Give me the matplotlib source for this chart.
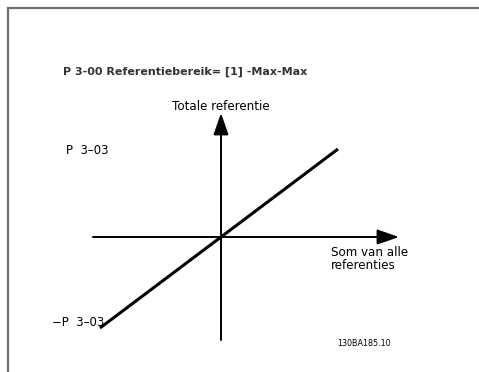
import matplotlib.pyplot as plt

# Diagram data (pixel offsets from the origin of the drawing)
line_x = [-121, 117]
line_y = [-91, 88]
x_axis = [-128, 178]   # horizontal arrow: start, tip
y_axis = [-103, 124]   # vertical arrow: bottom, tip

title = "P 3-00 Referentiebereik= [1] -Max-Max"
y_label = "Totale referentie"
x_label = "Som van alle\nreferenties"
upper = "P  3\u201303"
lower = "\u2212P  3\u201303"
code = "130BA185.10"

fig = plt.figure(figsize=(4.79, 3.72), dpi=100)
ax = fig.add_axes([0, 0, 1, 1])
ax.set_xlim(-221, 258)
ax.set_ylim(-135, 237)
ax.axis("off")

# frame (top and left edges visible)
ax.plot([-213, -213, 258], [-135, 229, 229], color="#707070", lw=1.6,
        solid_joinstyle="miter")

# axes with arrow heads
arrow = dict(arrowstyle="-|>,head_length=0.95,head_width=0.33", color="black",
             lw=1.4, shrinkA=0, shrinkB=0, mutation_scale=14)
ax.annotate("", xy=(x_axis[1], 0), xytext=(x_axis[0], 0), arrowprops=arrow)
ax.annotate("", xy=(0, y_axis[1]), xytext=(0, y_axis[0]), arrowprops=arrow)

# reference line
ax.plot(line_x, line_y, color="black", lw=2.2, solid_capstyle="butt")

ax.text(-158, 165, title, fontsize=8, fontweight="bold", color="#333333",
        ha="left", va="center")
ax.text(0, 131, y_label, fontsize=8.6, ha="center", va="center")
ax.text(-155, 86, upper, fontsize=8.4, ha="left", va="center")
ax.text(-169, -86, lower, fontsize=8.4, ha="left", va="center")
ax.text(110, -22, x_label, fontsize=8.6, ha="left", va="center",
        linespacing=1.0)
ax.text(143, -106, code, fontsize=5.8, ha="center", va="center")

plt.savefig("out.png", dpi=100)
